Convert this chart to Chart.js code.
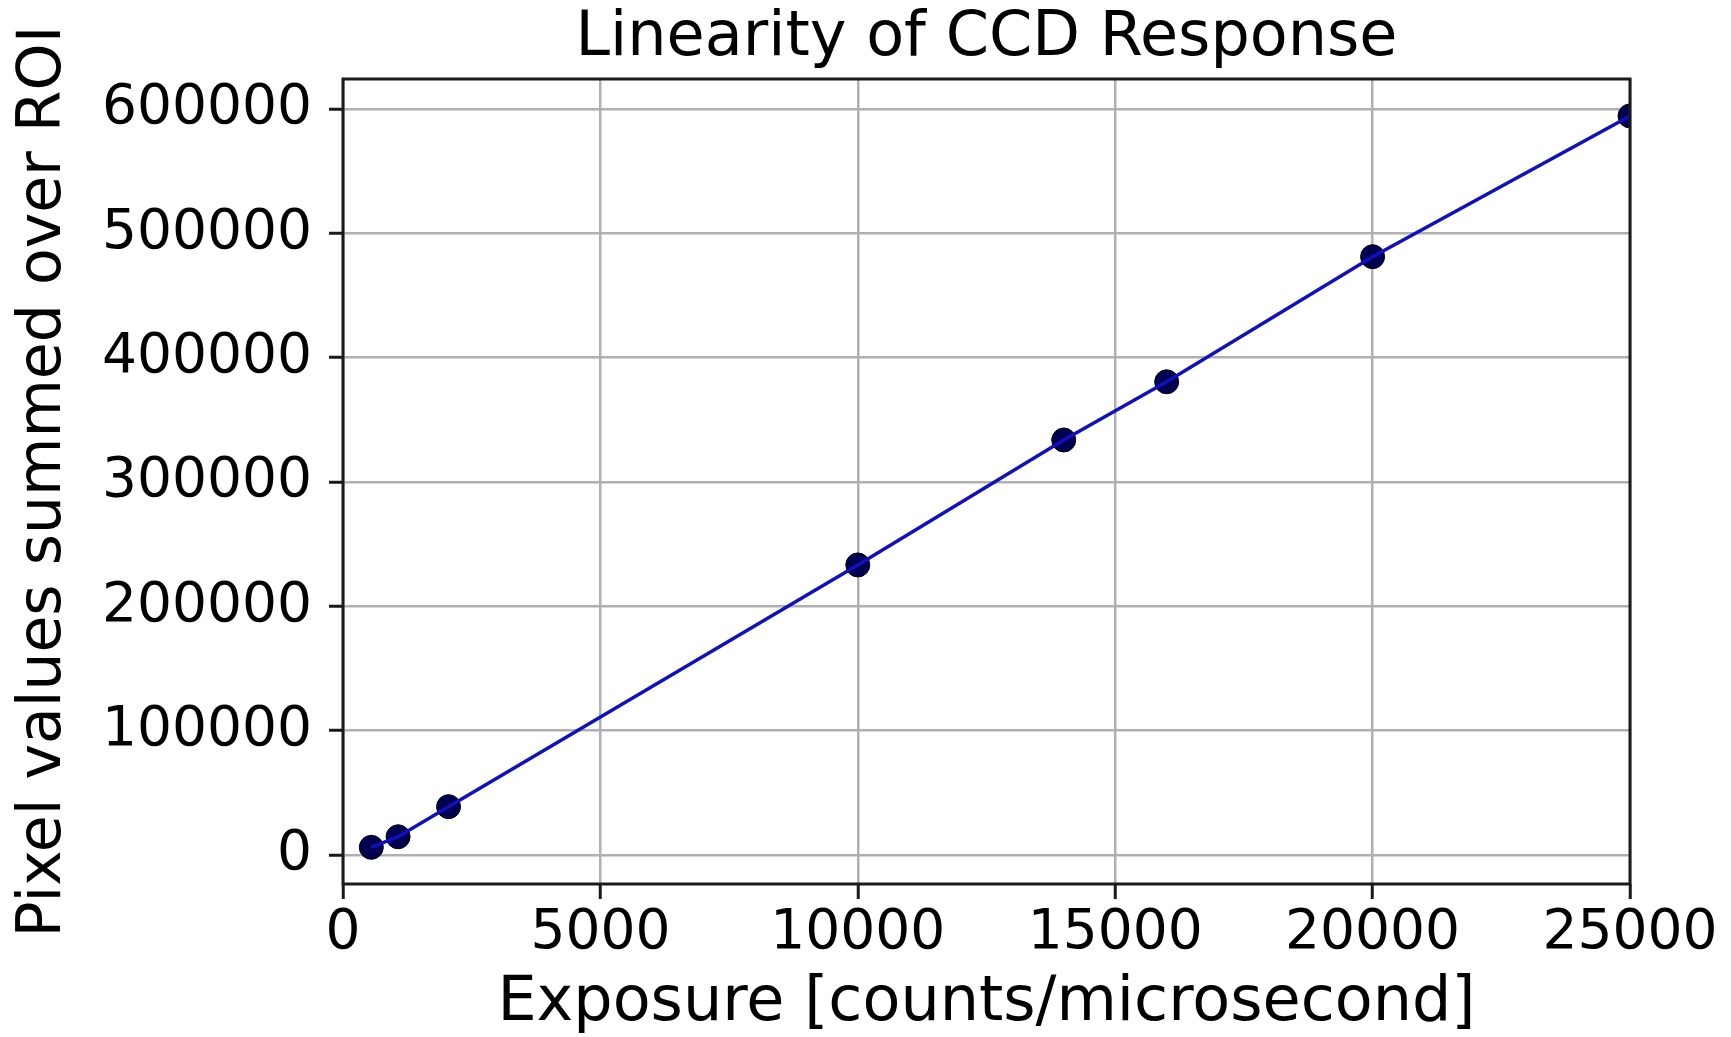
<!DOCTYPE html>
<html>
<head>
<meta charset="utf-8">
<script src="https://cdn.jsdelivr.net/npm/chart.js@4"></script>
<style>
  html, body { margin: 0; padding: 0; background: #fff; }
  #c { display: block; }
</style>
</head>
<body>
<canvas id="c" width="1731" height="1037"></canvas>
<script>
// ---- data ----
const exposure = [550, 1070, 2050, 10000, 14000, 16000, 20000, 25000];
const pixelSum = [6200, 14700, 38900, 233300, 333800, 380600, 481200, 594400];
const xTicks = [0, 5000, 10000, 15000, 20000, 25000];
const yTicks = [0, 100000, 200000, 300000, 400000, 500000, 600000];
const titleText = 'Linearity of CCD Response';
const xLabel = 'Exposure [counts/microsecond]';
const yLabel = 'Pixel values summed over ROI';
const xRange = [0, 25000];
const yRange = [-23300, 624100];

const points = exposure.map((x, i) => ({ x: x, y: pixelSum[i] }));
const FONT = "'DejaVu Sans', 'Liberation Sans', sans-serif";

const framePlugin = {
  id: 'frame',
  afterDatasetsDraw(chart) {
    const a = chart.chartArea, ctx = chart.ctx;
    ctx.save();
    ctx.strokeStyle = '#1a1a1a';
    ctx.lineWidth = 3;
    ctx.strokeRect(a.left, a.top, a.right - a.left, a.bottom - a.top);
    ctx.restore();
  }
};

new Chart(document.getElementById('c'), {
  type: 'scatter',
  data: {
    datasets: [
      {
        label: 'line',
        data: points,
        showLine: true,
        borderColor: '#1010c0',
        borderWidth: 3.5,
        pointRadius: 0,
        pointHoverRadius: 0,
        fill: false
      },
      {
        label: 'points',
        data: points,
        showLine: false,
        pointRadius: 12,
        pointBackgroundColor: '#000050',
        pointBorderColor: '#000000',
        pointBorderWidth: 1
      }
    ]
  },
  options: {
    responsive: false,
    animation: false,
    devicePixelRatio: 1,
    layout: { padding: { left: 0, right: 101, top: 0, bottom: 0 } },
    plugins: {
      legend: { display: false },
      tooltip: { enabled: false },
      title: {
        display: true,
        fullSize: false,
        text: titleText,
        color: '#000',
        font: { family: FONT, size: 62, weight: 'normal', lineHeight: 1 },
        padding: { top: 8, bottom: 9 }
      }
    },
    scales: {
      x: {
        type: 'linear',
        min: xRange[0],
        max: xRange[1],
        afterBuildTicks: s => { s.ticks = xTicks.map(v => ({ value: v })); },
        afterFit: s => { s.height = 153; },
        grid: {
          color: '#b0b0b0',
          lineWidth: 2.5,
          drawTicks: true,
          tickLength: 15,
          tickColor: '#1a1a1a',
          tickWidth: 3
        },
        border: { display: false },
        ticks: {
          color: '#000',
          padding: 2,
          maxRotation: 0,
          autoSkip: false,
          font: { family: FONT, size: 55, lineHeight: 1.2 },
          callback: v => String(v)
        },
        title: {
          display: true,
          text: xLabel,
          color: '#000',
          font: { family: FONT, size: 62, lineHeight: 1 },
          padding: { top: 0, bottom: 2 }
        }
      },
      y: {
        type: 'linear',
        min: yRange[0],
        max: yRange[1],
        afterBuildTicks: s => { s.ticks = yTicks.map(v => ({ value: v })); },
        afterFit: s => { s.width = 343; },
        grid: {
          color: '#b0b0b0',
          lineWidth: 2.5,
          drawTicks: true,
          tickLength: 14,
          tickColor: '#1a1a1a',
          tickWidth: 3
        },
        border: { display: false },
        ticks: {
          color: '#000',
          padding: 17,
          autoSkip: false,
          font: { family: FONT, size: 55, lineHeight: 1.2 },
          callback: v => String(v)
        },
        title: {
          display: true,
          text: yLabel,
          color: '#000',
          font: { family: FONT, size: 60, lineHeight: 1 },
          padding: { top: 14, bottom: 0 }
        }
      }
    }
  },
  plugins: [framePlugin]
});
</script>
</body>
</html>
